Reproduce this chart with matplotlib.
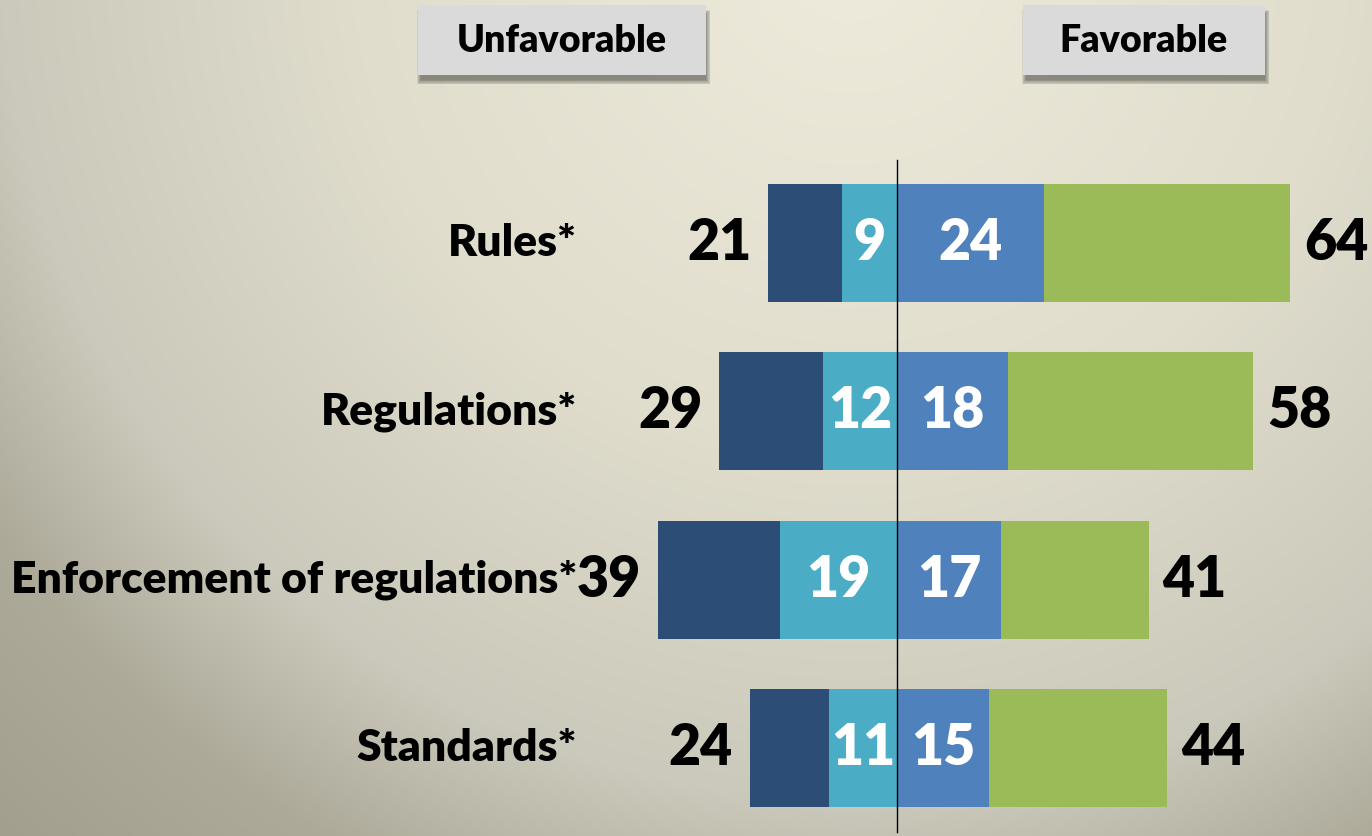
import numpy as np
import matplotlib
matplotlib.use('Agg')
import matplotlib.pyplot as plt
from matplotlib.patches import Rectangle
import matplotlib.transforms as mtransforms

# data
categories = ['Rules*', 'Regulations*', 'Enforcement of regulations*', 'Standards*']
unfav_total = [21, 29, 39, 24]
unfav_somewhat = [9, 12, 19, 11]
fav_somewhat = [24, 18, 17, 15]
fav_total = [64, 58, 41, 44]
headers = ['Unfavorable', 'Favorable']

unfav_very = [t - s for t, s in zip(unfav_total, unfav_somewhat)]
fav_very = [t - s for t, s in zip(fav_total, fav_somewhat)]

c_dark = '#2C4D75'
c_light = '#4BACC6'
c_blue = '#4F81BD'
c_green = '#9BBB59'

plt.rcParams['font.family'] = ['Lato', 'DejaVu Sans']
plt.rcParams['font.weight'] = 'bold'

W, H = 1372, 836
fig = plt.figure(figsize=(W / 100, H / 100), dpi=100)

# background gradient (light at top centre, darker towards bottom corners)
bg = fig.add_axes([0, 0, 1, 1])
bg.set_axis_off()
yy, xx = np.mgrid[0:H, 0:W]
d = np.hypot(xx - 850, yy + 50)
stops_d = [0, 500, 850, 1030, 1230]
stops_c = np.array([[238, 235, 220], [224, 221, 205], [203, 201, 187],
                    [173, 170, 154], [163, 159, 143]]) / 255
img = np.dstack([np.interp(d, stops_d, stops_c[:, k]) for k in range(3)])
bg.imshow(img, extent=(0, W, H, 0), aspect='auto', zorder=0)
bg.set_xlim(0, W)
bg.set_ylim(H, 0)


def header_box(x0, x1, text):
    y0, y1 = 5, 75
    w, h = x1 - x0, y1 - y0
    # soft drop shadow
    for k in range(7):
        bg.add_patch(Rectangle((x0 + 3 - k * 0.7, y0 + 9 - k * 0.7), w + 1.4 * k - 3, h + 1.4 * k - 4,
                               color='#2e2e26', alpha=0.09, lw=0, zorder=1))
    bg.add_patch(Rectangle((x0, y0), w, h, color='#DADADA', lw=0, zorder=2))
    bg.text((x0 + x1) / 2, (y0 + y1) / 2 + 1, text, ha='center', va='center',
            fontsize=27, fontweight='heavy', color='black', zorder=3)


header_box(418, 706, headers[0])
header_box(1023, 1265, headers[1])

# main chart
ax = fig.add_axes([0, 0, 1, 1])
ax.set_axis_off()
ax.patch.set_alpha(0)
ppu = 6.14      # pixels per percentage point
cx = 897        # pixel position of the zero line
row_px = 168.3
top_px = 243
ax.set_xlim(-cx / ppu, (W - cx) / ppu)
ax.set_ylim((H - top_px) / row_px, -top_px / row_px)

y = np.arange(len(categories))
h = 0.70
ax.barh(y, unfav_very, left=-np.array(unfav_total), height=h, color=c_dark, lw=0)
ax.barh(y, unfav_somewhat, left=-np.array(unfav_somewhat), height=h, color=c_light, lw=0)
ax.barh(y, fav_somewhat, left=0, height=h, color=c_blue, lw=0)
ax.barh(y, fav_very, left=np.array(fav_somewhat), height=h, color=c_green, lw=0)

ax.axvline(0, ymin=1 - 832 / H, ymax=1 - 160 / H, color='black', lw=1, zorder=5)

num_fs = 40
for i in range(len(categories)):
    ax.annotate(str(unfav_total[i]), (-unfav_total[i], i), xytext=(-12, 0),
                textcoords='offset points', ha='right', va='center',
                fontsize=num_fs, fontweight='heavy', color='black')
    ax.annotate(str(fav_total[i]), (fav_total[i], i), xytext=(10, 0),
                textcoords='offset points', ha='left', va='center',
                fontsize=num_fs, fontweight='heavy', color='black')
    ax.text(-unfav_somewhat[i] / 2, i, str(unfav_somewhat[i]), ha='center', va='center',
            fontsize=num_fs, fontweight='heavy', color='white', zorder=6)
    ax.text(fav_somewhat[i] / 2, i, str(fav_somewhat[i]), ha='center', va='center',
            fontsize=num_fs, fontweight='heavy', color='white', zorder=6)

trans = mtransforms.blended_transform_factory(ax.transAxes, ax.transData)
for i, cat in enumerate(categories):
    ax.text(577 / W, i, cat, transform=trans, ha='right', va='center',
            fontsize=32, fontweight='heavy', color='black')

fig.savefig('out.png', dpi=100)
